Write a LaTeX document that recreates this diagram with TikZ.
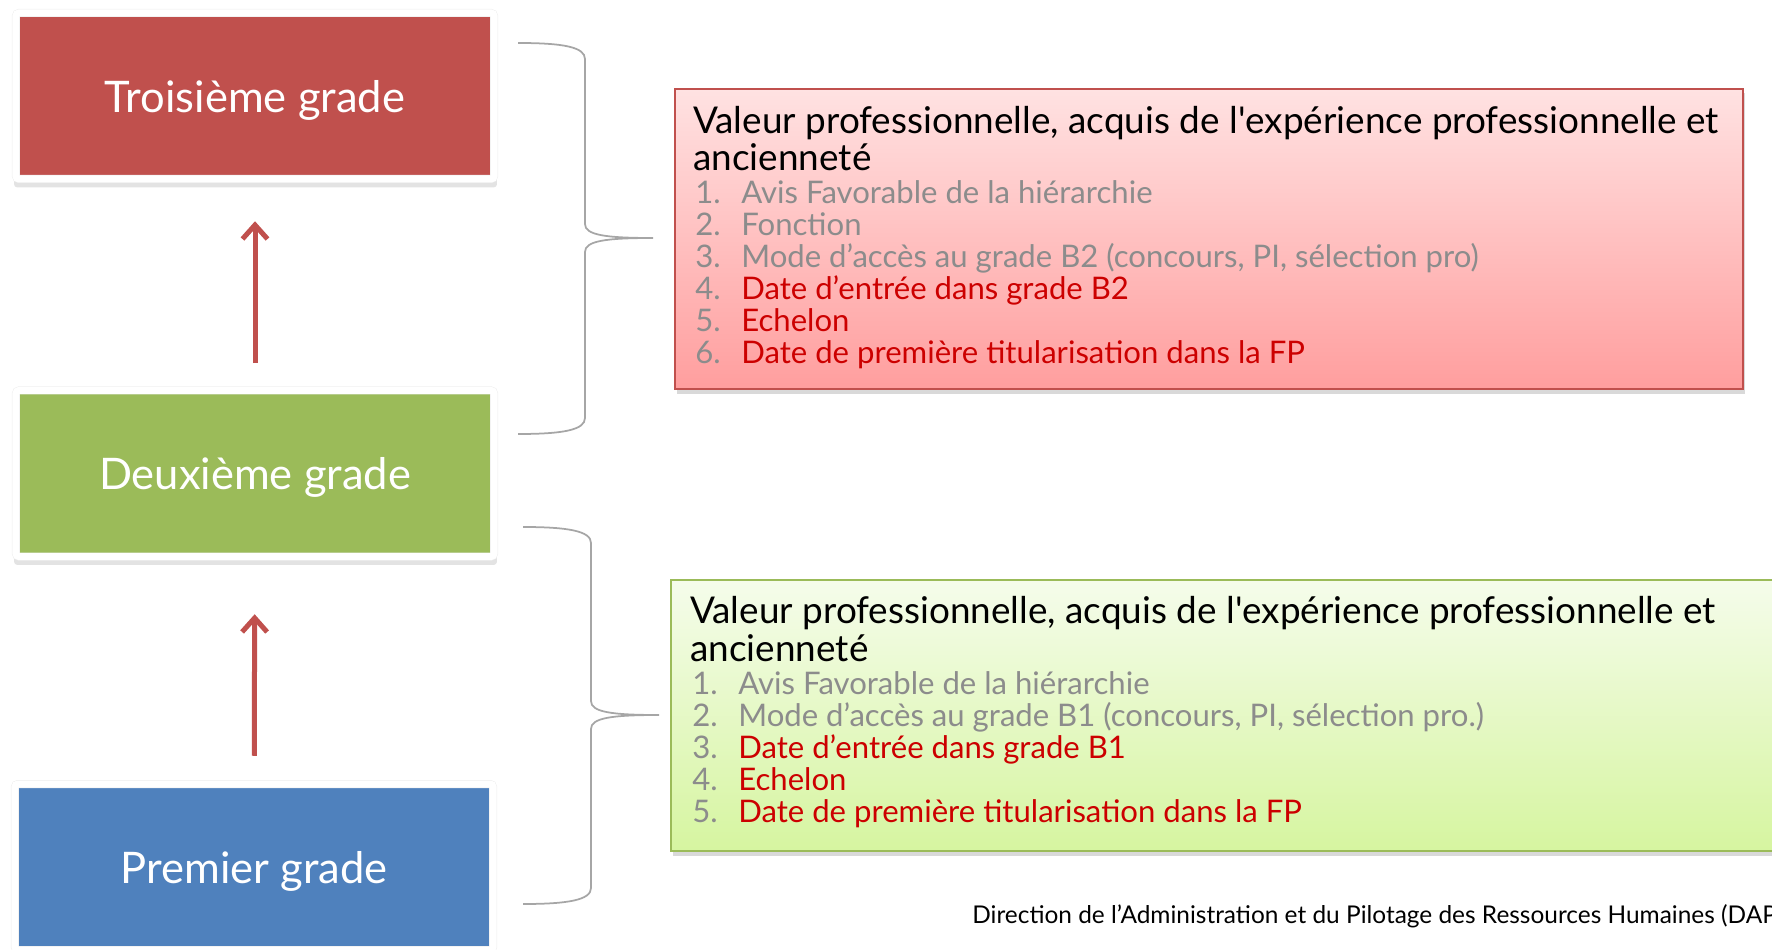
\documentclass[tikz,border=0pt]{standalone}
\usepackage{fontspec}
\setmainfont{Lato}
\usetikzlibrary{arrows.meta,shadows}
\definecolor{rougeG}{HTML}{C0504D}
\definecolor{vertG}{HTML}{9BBB59}
\definecolor{bleuG}{HTML}{4F81BD}
\definecolor{grisN}{HTML}{8C8C8C}
\definecolor{rougeT}{HTML}{CC0000}
\definecolor{grisA}{HTML}{A6A6A6}
\definecolor{roseH}{HTML}{FFE2E2}
\definecolor{roseB}{HTML}{FF9E9E}
\definecolor{vertH}{HTML}{F5FCEB}
\definecolor{vertB}{HTML}{D6F5A0}
\newcommand{\ligne}[3]{\makebox[9.2mm][l]{\color{grisN}#1}{\color{#2}#3}}
\begin{document}
\begin{tikzpicture}
  [x=0.2mm,y=-0.2mm,
   grade/.style={rectangle,draw=black!7,double=white,line width=0.1mm,double distance=1.4mm,
     rounded corners=0.6mm,
     minimum width=95.6mm,minimum height=33.2mm,text=white,text depth=0pt,
     font=\fontsize{24.75}{28}\selectfont,
     drop shadow={shadow xshift=0.1mm,shadow yshift=-1.5mm,shadow scale=1.01,opacity=0.22}},
   cadre/.style={rectangle,line width=0.4mm,
     drop shadow={shadow xshift=0.3mm,shadow yshift=-0.9mm,opacity=0.3}},
   titre/.style={anchor=base west,align=left,inner sep=0pt,
     font=\fontsize{21}{21.06}\selectfont},
   liste/.style={anchor=base west,align=left,inner sep=0pt,
     font=\fontsize{17.7}{18.21}\selectfont},
   fleche/.style={-{Straight Barb[length=2.8mm,width=5mm,line width=1mm]},
     draw=rougeG,line width=1mm},
   accolade/.style={draw=grisA,line width=0.35mm}]
  \useasboundingbox (0,0) rectangle (1772,950);
  \clip (0,0) rectangle (1772,950);
  % grades
  \node (trois)[grade,fill=rougeG] at (255,96) {Troisième grade};
  \node (deux)[grade,fill=vertG] at (255,473.5) {Deuxième grade};
  \node (prem)[grade,fill=bleuG] at (254,867) {Premier grade};
  \foreach \de/\vers/\sa/\sb in {deux/trois/5.4mm/8.4mm,prem/deux/5.6mm/11.5mm}
    \draw[fleche,shorten <=\sa,shorten >=\sb] (\de) -- (\vers);
  % accolades
  \foreach \xa/\xb/\xc/\ya/\yb/\yc in {518/585/653/43/238/434,523/591/659/527/715/904}
    \draw[accolade] (\xa,\ya) .. controls (\xa+45,\ya) and (\xb,\ya+4) .. (\xb,\ya+16)
      -- (\xb,\yb-14) .. controls (\xb,\yb-3) and (\xb+20,\yb) .. (\xc,\yb)
      .. controls (\xb+20,\yb) and (\xb,\yb+3) .. (\xb,\yb+14)
      -- (\xb,\yc-16) .. controls (\xb,\yc-4) and (\xa+45,\yc) .. (\xa,\yc);
  % cadres
  \node (cadreB2)[cadre,draw=rougeG,top color=roseH,bottom color=roseB,
    minimum width=213.6mm,minimum height=60mm] at (1209,239) {};
  \node (cadreB1)[cadre,draw=vertG,top color=vertH,bottom color=vertB,
    minimum width=224mm,minimum height=54.2mm] at (1231,715.5) {};
  \node (titreB2)[titre] at (693,171)
    {Valeur professionnelle, acquis de l\textquotesingle expérience professionnelle et\\ancienneté};
  \node (listeB2)[liste] at (695,364)
    {\ligne{1.}{grisN}{Avis Favorable de la hiérarchie}\\
     \ligne{2.}{grisN}{Fonction}\\
     \ligne{3.}{grisN}{Mode d’accès au grade B2 (concours, PI, sélection pro)}\\
     \ligne{4.}{rougeT}{Date d’entrée dans grade B2}\\
     \ligne{5.}{rougeT}{Echelon}\\
     \ligne{6.}{rougeT}{Date de première titularisation dans la FP}};
  \node (titreB1)[titre] at (690,661)
    {Valeur professionnelle, acquis de l\textquotesingle expérience professionnelle et\\ancienneté};
  \node (listeB1)[liste] at (692,822)
    {\ligne{1.}{grisN}{Avis Favorable de la hiérarchie}\\
     \ligne{2.}{grisN}{Mode d’accès au grade B1 (concours, PI, sélection pro.)}\\
     \ligne{3.}{rougeT}{Date d’entrée dans grade B1}\\
     \ligne{4.}{rougeT}{Echelon}\\
     \ligne{5.}{rougeT}{Date de première titularisation dans la FP}};
  \node (pied)[anchor=base west,inner sep=0pt,font=\fontsize{13.9}{16}\selectfont] at (972,923)
    {Direction de l’Administration et du Pilotage des Ressources Humaines (DAPRH)};
\end{tikzpicture}
\end{document}
